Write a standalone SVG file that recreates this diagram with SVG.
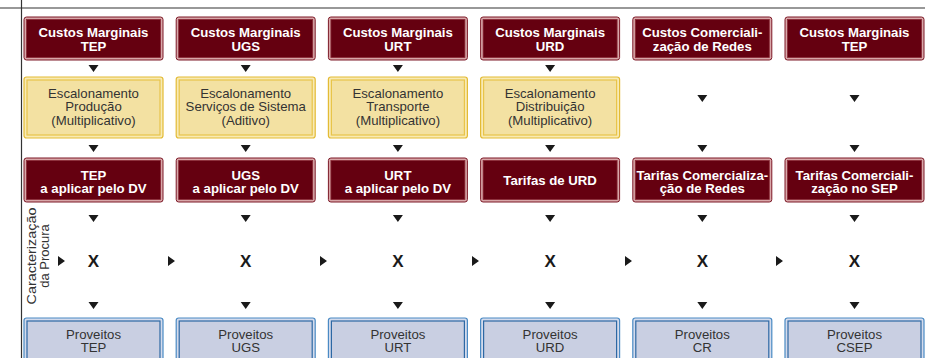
<svg xmlns="http://www.w3.org/2000/svg" width="925" height="358" viewBox="0 0 925 358">
<style>
.bg{fill:#ffffff}
.frame{stroke:#333;stroke-width:1.2;fill:none}
.r-out{fill:#d8a7a9;stroke:#7c1826;stroke-width:1}
.r-in{fill:#650010;stroke:#8a2a36;stroke-width:0.8}
.y-out{fill:#f8eab4;stroke:#e3bb35;stroke-width:1.2}
.y-in{fill:#f3e1a2;stroke:#e8c44a;stroke-width:1.2}
.b-out{fill:#d4dbec;stroke:#4a8ac4;stroke-width:1.2}
.b-in{fill:#c9cfe2;stroke:#2d68a4;stroke-width:1.2}
.tw{font-family:"Liberation Sans",Arial,sans-serif;font-weight:bold;font-size:13.2px;fill:#ffffff;text-anchor:middle}
.tg{font-family:"Liberation Sans",Arial,sans-serif;font-size:13.2px;fill:#333333;text-anchor:middle}
.tl{font-family:"Liberation Sans",Arial,sans-serif;font-size:13px;fill:#333333;text-anchor:middle}
.tx{font-family:"Liberation Sans",Arial,sans-serif;font-weight:bold;font-size:17px;fill:#1a1a1a;text-anchor:middle}
.tri{fill:#1a1a1a}
</style>
<rect class="bg" x="0" y="0" width="925" height="358"/>
<g id="frame">
<line class="frame" x1="21.5" y1="0" x2="21.5" y2="358"/>
<line class="frame" x1="0" y1="8" x2="925" y2="8"/>
</g>
<g id="label-procura" transform="translate(36,256) rotate(-90)">
<text class="tl" x="0" y="0" textLength="97" lengthAdjust="spacingAndGlyphs">Caracterização</text>
<text class="tl" x="0" y="13">da Procura</text>
</g>

<!-- Row 1: Custos -->
<g id="cm-tep">
<rect class="r-out" x="24" y="17" width="139" height="43" rx="2.5"/>
<rect class="r-in" x="26.5" y="19.5" width="134" height="38"/>
<text class="tw" x="93.5" y="37">Custos Marginais</text>
<text class="tw" x="93.5" y="50.5">TEP</text>
</g>
<g id="cm-ugs">
<rect class="r-out" x="176.2" y="17" width="139" height="43" rx="2.5"/>
<rect class="r-in" x="178.7" y="19.5" width="134" height="38"/>
<text class="tw" x="245.7" y="37">Custos Marginais</text>
<text class="tw" x="245.7" y="50.5">UGS</text>
</g>
<g id="cm-urt">
<rect class="r-out" x="328.4" y="17" width="139" height="43" rx="2.5"/>
<rect class="r-in" x="330.9" y="19.5" width="134" height="38"/>
<text class="tw" x="397.9" y="37">Custos Marginais</text>
<text class="tw" x="397.9" y="50.5">URT</text>
</g>
<g id="cm-urd">
<rect class="r-out" x="480.6" y="17" width="139" height="43" rx="2.5"/>
<rect class="r-in" x="483.1" y="19.5" width="134" height="38"/>
<text class="tw" x="550.1" y="37">Custos Marginais</text>
<text class="tw" x="550.1" y="50.5">URD</text>
</g>
<g id="cc-redes">
<rect class="r-out" x="632.8" y="17" width="139" height="43" rx="2.5"/>
<rect class="r-in" x="635.3" y="19.5" width="134" height="38"/>
<text class="tw" x="702.3" y="37">Custos Comerciali-</text>
<text class="tw" x="702.3" y="50.5">zação de Redes</text>
</g>
<g id="cm-tep2">
<rect class="r-out" x="785" y="17" width="139" height="43" rx="2.5"/>
<rect class="r-in" x="787.5" y="19.5" width="134" height="38"/>
<text class="tw" x="854.5" y="37">Custos Marginais</text>
<text class="tw" x="854.5" y="50.5">TEP</text>
</g>

<!-- Row 2: Escalonamento -->
<g id="esc-prod">
<rect class="y-out" x="24" y="77" width="139" height="61" rx="2.5"/>
<rect class="y-in" x="27" y="80" width="133" height="55"/>
<text class="tg" x="93.5" y="97.5">Escalonamento</text>
<text class="tg" x="93.5" y="111">Produção</text>
<text class="tg" x="93.5" y="124.5">(Multiplicativo)</text>
</g>
<g id="esc-ss">
<rect class="y-out" x="176.2" y="77" width="139" height="61" rx="2.5"/>
<rect class="y-in" x="179.2" y="80" width="133" height="55"/>
<text class="tg" x="245.7" y="97.5">Escalonamento</text>
<text class="tg" x="245.7" y="111">Serviços de Sistema</text>
<text class="tg" x="245.7" y="124.5">(Aditivo)</text>
</g>
<g id="esc-transp">
<rect class="y-out" x="328.4" y="77" width="139" height="61" rx="2.5"/>
<rect class="y-in" x="331.4" y="80" width="133" height="55"/>
<text class="tg" x="397.9" y="97.5">Escalonamento</text>
<text class="tg" x="397.9" y="111">Transporte</text>
<text class="tg" x="397.9" y="124.5">(Multiplicativo)</text>
</g>
<g id="esc-dist">
<rect class="y-out" x="480.6" y="77" width="139" height="61" rx="2.5"/>
<rect class="y-in" x="483.6" y="80" width="133" height="55"/>
<text class="tg" x="550.1" y="97.5">Escalonamento</text>
<text class="tg" x="550.1" y="111">Distribuição</text>
<text class="tg" x="550.1" y="124.5">(Multiplicativo)</text>
</g>

<!-- Row 3: Tarifas -->
<g id="tar-tep">
<rect class="r-out" x="24" y="158" width="139" height="44" rx="2.5"/>
<rect class="r-in" x="26.5" y="160.5" width="134" height="39"/>
<text class="tw" x="93.5" y="179.5">TEP</text>
<text class="tw" x="93.5" y="193">a aplicar pelo DV</text>
</g>
<g id="tar-ugs">
<rect class="r-out" x="176.2" y="158" width="139" height="44" rx="2.5"/>
<rect class="r-in" x="178.7" y="160.5" width="134" height="39"/>
<text class="tw" x="245.7" y="179.5">UGS</text>
<text class="tw" x="245.7" y="193">a aplicar pelo DV</text>
</g>
<g id="tar-urt">
<rect class="r-out" x="328.4" y="158" width="139" height="44" rx="2.5"/>
<rect class="r-in" x="330.9" y="160.5" width="134" height="39"/>
<text class="tw" x="397.9" y="179.5">URT</text>
<text class="tw" x="397.9" y="193">a aplicar pelo DV</text>
</g>
<g id="tar-urd">
<rect class="r-out" x="480.6" y="158" width="139" height="44" rx="2.5"/>
<rect class="r-in" x="483.1" y="160.5" width="134" height="39"/>
<text class="tw" x="550.1" y="185">Tarifas de URD</text>
</g>
<g id="tar-cr">
<rect class="r-out" x="632.8" y="158" width="139" height="44" rx="2.5"/>
<rect class="r-in" x="635.3" y="160.5" width="134" height="39"/>
<text class="tw" x="702.3" y="179.5">Tarifas Comercializa-</text>
<text class="tw" x="702.3" y="193">ção de Redes</text>
</g>
<g id="tar-sep">
<rect class="r-out" x="785" y="158" width="139" height="44" rx="2.5"/>
<rect class="r-in" x="787.5" y="160.5" width="134" height="39"/>
<text class="tw" x="854.5" y="179.5">Tarifas Comerciali-</text>
<text class="tw" x="854.5" y="193">zação no SEP</text>
</g>

<!-- Multiplication signs -->
<g id="mult">
<text class="tx" x="93.5" y="267">X</text>
<text class="tx" x="245.7" y="267">X</text>
<text class="tx" x="397.9" y="267">X</text>
<text class="tx" x="550.1" y="267">X</text>
<text class="tx" x="702.3" y="267">X</text>
<text class="tx" x="854.5" y="267">X</text>
</g>

<!-- Row 4: Proveitos -->
<g id="prov-tep">
<rect class="b-out" x="24" y="318" width="139" height="48" rx="2.5"/>
<rect class="b-in" x="27" y="321" width="133" height="42"/>
<text class="tg" x="93.5" y="338.5">Proveitos</text>
<text class="tg" x="93.5" y="352">TEP</text>
</g>
<g id="prov-ugs">
<rect class="b-out" x="176.2" y="318" width="139" height="48" rx="2.5"/>
<rect class="b-in" x="179.2" y="321" width="133" height="42"/>
<text class="tg" x="245.7" y="338.5">Proveitos</text>
<text class="tg" x="245.7" y="352">UGS</text>
</g>
<g id="prov-urt">
<rect class="b-out" x="328.4" y="318" width="139" height="48" rx="2.5"/>
<rect class="b-in" x="331.4" y="321" width="133" height="42"/>
<text class="tg" x="397.9" y="338.5">Proveitos</text>
<text class="tg" x="397.9" y="352">URT</text>
</g>
<g id="prov-urd">
<rect class="b-out" x="480.6" y="318" width="139" height="48" rx="2.5"/>
<rect class="b-in" x="483.6" y="321" width="133" height="42"/>
<text class="tg" x="550.1" y="338.5">Proveitos</text>
<text class="tg" x="550.1" y="352">URD</text>
</g>
<g id="prov-cr">
<rect class="b-out" x="632.8" y="318" width="139" height="48" rx="2.5"/>
<rect class="b-in" x="635.8" y="321" width="133" height="42"/>
<text class="tg" x="702.3" y="338.5">Proveitos</text>
<text class="tg" x="702.3" y="352">CR</text>
</g>
<g id="prov-csep">
<rect class="b-out" x="785" y="318" width="139" height="48" rx="2.5"/>
<rect class="b-in" x="788" y="321" width="133" height="42"/>
<text class="tg" x="854.5" y="338.5">Proveitos</text>
<text class="tg" x="854.5" y="352">CSEP</text>
</g>

<!-- Connectors: arrowheads -->
<g id="connectors">
<path class="tri" d="M88.5,65 h10 l-5,7 z M240.7,65 h10 l-5,7 z M392.9,65 h10 l-5,7 z M545.1,65 h10 l-5,7 z"/>
<path class="tri" d="M697.3,95 h10 l-5,7 z M849.5,95 h10 l-5,7 z"/>
<path class="tri" d="M88.5,145 h10 l-5,7 z M240.7,145 h10 l-5,7 z M392.9,145 h10 l-5,7 z M545.1,145 h10 l-5,7 z M697.3,145 h10 l-5,7 z M849.5,145 h10 l-5,7 z"/>
<path class="tri" d="M88.5,215 h10 l-5,7 z M240.7,215 h10 l-5,7 z M392.9,215 h10 l-5,7 z M545.1,215 h10 l-5,7 z M697.3,215 h10 l-5,7 z M849.5,215 h10 l-5,7 z"/>
<path class="tri" d="M88.5,302 h10 l-5,7 z M240.7,302 h10 l-5,7 z M392.9,302 h10 l-5,7 z M545.1,302 h10 l-5,7 z M697.3,302 h10 l-5,7 z M849.5,302 h10 l-5,7 z"/>
<path class="tri" d="M58,256 v10 l7,-5 z M168,256 v10 l7,-5 z M320,256 v10 l7,-5 z M472,256 v10 l7,-5 z M625,256 v10 l7,-5 z M776,256 v10 l7,-5 z"/>
</g>
</svg>
